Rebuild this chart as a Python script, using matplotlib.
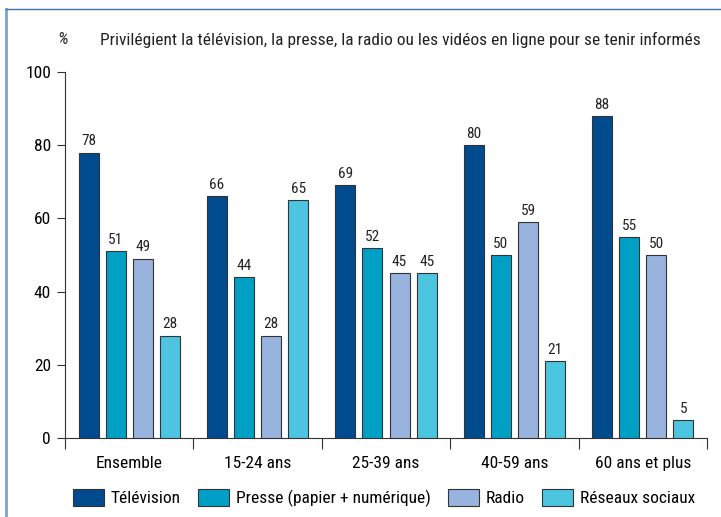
import matplotlib
matplotlib.use("Agg")
import matplotlib.pyplot as plt
from matplotlib.patches import Patch
from matplotlib.lines import Line2D
import numpy as np

plt.rcParams['font.family'] = ['Roboto Condensed', 'DejaVu Sans']

categories = ["Ensemble", "15-24 ans", "25-39 ans", "40-59 ans", "60 ans et plus"]
series_names = ["Télévision", "Presse (papier + numérique)", "Radio", "Réseaux sociaux"]
television = [78, 66, 69, 80, 88]
presse = [51, 44, 52, 50, 55]
radio = [49, 28, 45, 59, 50]
reseaux = [28, 65, 45, 21, 5]
colors = ["#004B8D", "#00A0C6", "#98B3DE", "#4DC5E0"]
yticks = [0, 20, 40, 60, 80, 100]
title = "Privilégient la télévision, la presse, la radio ou les vidéos en ligne pour se tenir informés"

fig = plt.figure(figsize=(7.21, 5.17), dpi=100)
ax = fig.add_axes([65/721, 1-438/517, (707-65)/721, (438-72)/517])

x = np.arange(len(categories))
width = 0.156
pitch = 0.211
all_series = [television, presse, radio, reseaux]
for i, (vals, col) in enumerate(zip(all_series, colors)):
    pos = x + (i - 1.5) * pitch
    bars = ax.bar(pos, vals, width, color=col, edgecolor="#333333", linewidth=0.8, zorder=3)
    for b, v in zip(bars, vals):
        ax.annotate(str(v), (b.get_x() + b.get_width()/2, v), xytext=(0, 3),
                    textcoords="offset points", ha="center", va="bottom",
                    fontsize=11, color="#222222")

ax.set_xlim(-0.5, len(categories) - 0.5)
ax.set_ylim(0, 100)
ax.set_yticks(yticks)
ax.set_yticklabels([str(t) for t in yticks], fontsize=12.5)
ax.set_xticks(np.arange(len(categories) + 1) - 0.5)
ax.set_xticklabels([])
ax.set_xticks(x, minor=True)
ax.set_xticklabels(categories, minor=True, fontsize=12.5)
ax.tick_params(axis='x', which='major', length=8, width=0.8, direction='out', color="#333333")
ax.tick_params(axis='x', which='minor', length=0, pad=13)
ax.tick_params(axis='y', length=6, width=0.8, direction='out', color="#333333", pad=4)
for s in ["top", "right"]:
    ax.spines[s].set_visible(False)
ax.spines["left"].set_color("#333333")
ax.spines["bottom"].set_color("#333333")
ax.spines["left"].set_linewidth(0.8)
ax.spines["bottom"].set_linewidth(0.8)
ax.spines["bottom"].set_bounds(-0.5, len(categories) - 0.5)

fig.text(63/721, 1-40/517, "%", fontsize=12.5, ha="center", va="center", color="#222222", style="italic")
fig.text(100/721, 1-40/517, title, fontsize=12.5, ha="left", va="center", color="#222222")

handles = [Patch(facecolor=c, edgecolor="#333333", linewidth=0.8) for c in colors]
fig.legend(handles, series_names, loc="center", bbox_to_anchor=(384/721, 1-498/517), ncol=4,
           frameon=False, fontsize=12.5, handlelength=1.78, handleheight=1.15,
           handletextpad=0.4, columnspacing=1.0, borderpad=0, borderaxespad=0)

# outer frame lines (left and top)
fig.add_artist(Line2D([6/721, 6/721], [0, 1-9/517], color="#7FA3D6", linewidth=2.0, transform=fig.transFigure))
fig.add_artist(Line2D([6/721, 1], [1-9/517, 1-9/517], color="#3F6FB0", linewidth=1.0, transform=fig.transFigure))

fig.savefig("out.png", dpi=100)
